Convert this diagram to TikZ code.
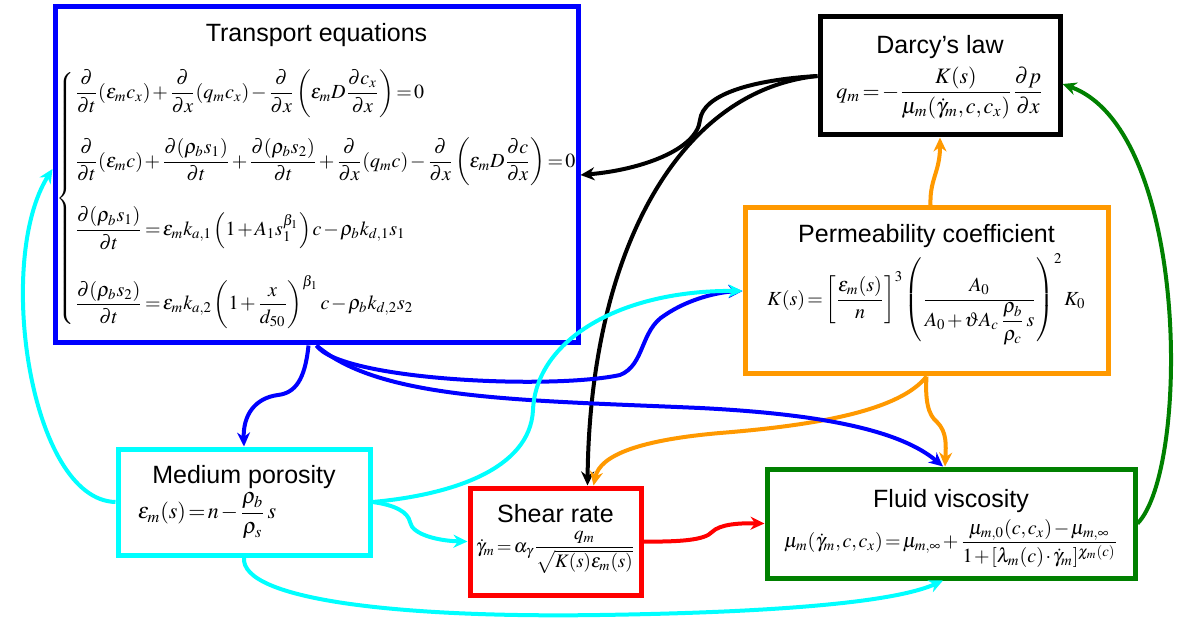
\documentclass[tikz,border=0pt]{standalone}
\usepackage{amsmath}
\usepackage{mathptmx}
\usepackage[no-math]{fontspec}
\setmainfont{Liberation Sans}
\usepackage{tikz}
\usetikzlibrary{arrows.meta,positioning,calc}

\definecolor{cblue}{RGB}{0,0,255}
\definecolor{corange}{RGB}{255,153,0}
\definecolor{ccyan}{RGB}{0,255,255}
\definecolor{cred}{RGB}{255,0,0}
\definecolor{cgreen}{RGB}{0,128,0}
\newcommand{\tightmath}{\thickmuskip=2mu plus 1mu\medmuskip=1.5mu\thinmuskip=1.5mu}

\begin{document}
\begin{tikzpicture}[
  x=0.5pt,y=-0.5pt,
  box/.style={draw=#1,line width=2.5pt,inner sep=0pt},
  ttl/.style={font=\fontsize{12.5}{14}\selectfont,inner sep=0pt},
  eq/.style={font=\fontsize{#1}{13}\selectfont\tightmath,inner sep=0pt},
  eq/.default=11,
  link/.style={-{Stealth[length=7pt,width=6.5pt]},line width=2pt,draw=#1}
]
\useasboundingbox (0,0) rectangle (1177,625);

% boxes
\node[box=cblue,minimum width=261.5pt,minimum height=168pt] (transport) at (316.5,175) {};
\node[box=black,minimum width=120pt,minimum height=59pt] (darcy) at (940,76) {};
\node[box=corange,minimum width=181.5pt,minimum height=83pt] (perm) at (926.5,291) {};
\node[box=ccyan,minimum width=126pt,minimum height=53pt] (poros) at (244,502) {};
\node[box=cred,minimum width=85.5pt,minimum height=53.5pt] (shear) at (555.5,541.5) {};
\node[box=cgreen,minimum width=184pt,minimum height=54.5pt] (visc) at (951,523.5) {};

% titles
\node[ttl,below=9pt of transport.north] (ttitle) {Transport equations};
\node[ttl,below=10pt of darcy.north] (dtitle) {Darcy's law};
\node[ttl,below=9pt of perm.north] (ptitle) {Permeability coefficient};
\node[ttl,below=9pt of poros.north] (mtitle) {Medium porosity};
\node[ttl,below=9pt of shear.north] (stitle) {Shear rate};
\node[ttl,below=11pt of visc.north] (vtitle) {Fluid viscosity};

% equations
\node[eq=10,anchor=west,xshift=2pt,yshift=-12pt] (teq) at (transport.west) {$
\left\{\begin{array}{@{}l@{}}
\displaystyle\frac{\partial}{\partial t}(\varepsilon_m c_x)+\frac{\partial}{\partial x}(q_m c_x)-\frac{\partial}{\partial x}\left(\varepsilon_m D\frac{\partial c_x}{\partial x}\right)=0\\[16pt]
\displaystyle\frac{\partial}{\partial t}(\varepsilon_m c)+\frac{\partial(\rho_b s_1)}{\partial t}+\frac{\partial(\rho_b s_2)}{\partial t}+\frac{\partial}{\partial x}(q_m c)-\frac{\partial}{\partial x}\left(\varepsilon_m D\frac{\partial c}{\partial x}\right)=0\\[16pt]
\displaystyle\frac{\partial(\rho_b s_1)}{\partial t}=\varepsilon_m k_{a,1}\left(1+A_1 s_1^{\beta_1}\right)c-\rho_b k_{d,1}s_1\\[16pt]
\displaystyle\frac{\partial(\rho_b s_2)}{\partial t}=\varepsilon_m k_{a,2}\left(1+\frac{x}{d_{50}}\right)^{\beta_1}c-\rho_b k_{d,2}s_2
\end{array}\right.$};
\node[eq,below=4pt of dtitle] (deq) {$\displaystyle q_m=-\frac{K(s)}{\mu_m(\dot\gamma_m,c,c_x)}\frac{\partial p}{\partial x}$};
\node[eq=10,below=3pt of ptitle] (peq) {$\displaystyle K(s)=\left[\frac{\varepsilon_m(s)}{n}\right]^3\left(\frac{A_0}{A_0+\vartheta A_c\,\dfrac{\rho_b}{\rho_c}\,s}\right)^2 K_0$};
\node[eq,anchor=west,xshift=11pt,yshift=-7pt] (meq) at (poros.west) {$\displaystyle \varepsilon_m(s)=n-\frac{\rho_b}{\rho_s}\,s$};
\node[eq=9.5,below=4pt of stitle] (seq) {$\displaystyle \dot\gamma_m=\alpha_\gamma\frac{q_m}{\sqrt{K(s)\varepsilon_m(s)}}$};
\node[eq=10,below=3pt of vtitle] (veq) {$\displaystyle \mu_m(\dot\gamma_m,c,c_x)=\mu_{m,\infty}+\frac{\mu_{m,0}(c,c_x)-\mu_{m,\infty}}{1+[\lambda_m(c)\cdot\dot\gamma_m]^{\chi_m(c)}}$};

% connectors
\draw[link=black] (darcy.west) .. controls (750,80) and (703,95) .. (700,120)
  .. controls (697,150) and (640,170) .. (transport.east);
\draw[link=black] (darcy.west) .. controls (680,90) and (590,250) .. ([xshift=16pt]shear.north);
\draw[link=corange] ([xshift=2pt]perm.north) .. controls (930,190) and (933,182) .. (936,172)
  .. controls (939,162) and (940,155) .. (darcy.south);
\draw[link=corange] (perm.south) .. controls (925,400) and (928,415) .. (937,422)
  .. controls (947,432) and (946,445) .. ([xshift=-3pt]visc.north);
\draw[link=corange] (perm.south) .. controls (900,410) and (820,425) .. (720,433)
  .. controls (640,440) and (600,455) .. ([xshift=19pt]shear.north);
\draw[link=cblue] ([xshift=-4pt]transport.south) .. controls (305,380) and (295,393) .. (278,395)
  .. controls (255,398) and (243,415) .. (poros.north);
\draw[link=cblue] (transport.south) .. controls (340,380) and (550,390) .. (620,375)
  .. controls (645,365) and (640,330) .. (665,315)
  .. controls (690,298) and (720,292) .. (perm.west);
\draw[link=cblue] (transport.south) .. controls (380,400) and (520,400) .. (700,408)
  .. controls (820,414) and (900,430) .. ([xshift=-4pt]visc.north);
\draw[link=ccyan] (poros.east) .. controls (450,495) and (530,470) .. (533,410)
  .. controls (536,340) and (620,290) .. (perm.west);
\draw[link=ccyan] (poros.east) .. controls (395,505) and (408,512) .. (410,522)
  .. controls (412,535) and (440,541) .. (shear.west);
\draw[link=ccyan] (poros.south) .. controls (240,600) and (400,618) .. (600,615)
  .. controls (800,612) and (900,600) .. ([xshift=-4pt]visc.south);
\draw[link=ccyan] (poros.west) .. controls (30,500) and (-5,260) .. ([yshift=3pt]transport.west);
\draw[link=cred] (shear.east) .. controls (680,542) and (705,540) .. (712,532)
  .. controls (720,524) and (740,523) .. (visc.west);
\draw[link=cgreen] (visc.east) .. controls (1190,470) and (1190,130) .. ([yshift=-4pt]darcy.east);
\end{tikzpicture}
\end{document}
